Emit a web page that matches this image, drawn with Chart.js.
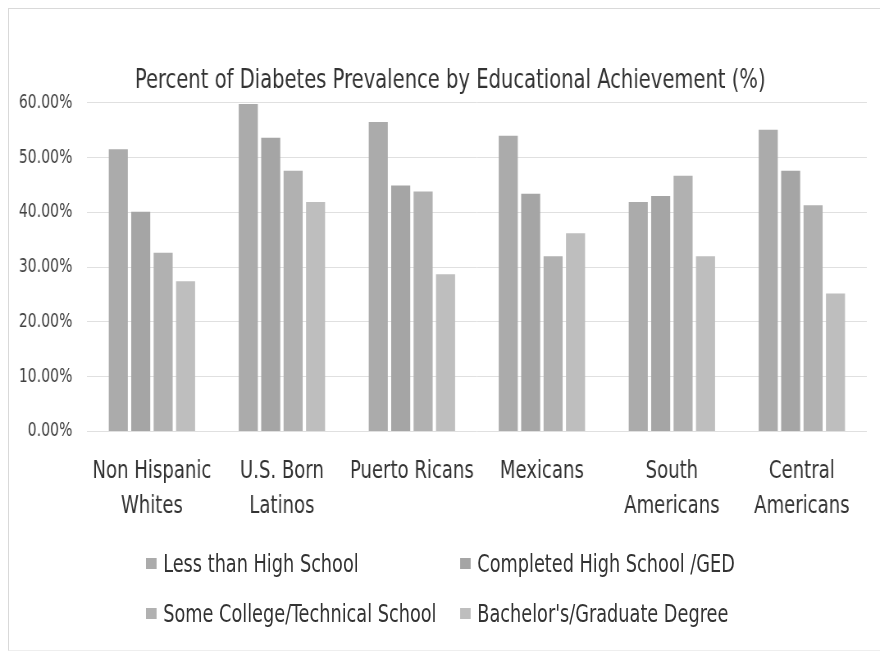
<!DOCTYPE html>
<html>
<head>
<meta charset="utf-8">
<script src="https://cdn.jsdelivr.net/npm/chart.js@4.4.1/dist/chart.umd.min.js"></script>
<style>
  html, body { margin: 0; padding: 0; background: #fff; }
  #wrap { position: relative; width: 880px; height: 652px; overflow: hidden; }
  #frame { position: absolute; left: 8px; top: 8px; width: 900px; height: 641px;
           border-left: 1px solid #d9d9d9; border-top: 1px solid #d9d9d9; border-bottom: 1px solid #eeeeee; }
  #scaled { position: absolute; left: 0; top: 0; width: 1073px; height: 652px;
            transform: scaleX(0.8201); transform-origin: 0 0; }
  canvas { position: absolute; left: 0; top: 0; }
  .lg { position: absolute; font-family: 'DejaVu Sans Condensed', 'DejaVu Sans', sans-serif;
        font-size: 24px; color: #333; white-space: nowrap; line-height: 24px; }
  .lg .box { position: absolute; width: 13px; height: 11px; }
  .lg .txt { position: absolute; }
</style>
</head>
<body>
<div id="wrap">
  <div id="frame"></div>
  <div id="scaled">
    <canvas id="c" width="1073" height="652"></canvas>
    <div id="legend"></div>
  </div>
</div>
<script>
const categories = [
  ['Non Hispanic', 'Whites'],
  ['U.S. Born', 'Latinos'],
  'Puerto Ricans',
  'Mexicans',
  ['South', 'Americans'],
  ['Central', 'Americans']
];
const seriesNames = [
  'Less than High School',
  'Completed High School /GED',
  'Some College/Technical School',
  "Bachelor's/Graduate Degree"
];
const lessThanHighSchool   = [51.5, 59.8, 56.5, 54.0, 41.9, 55.1];
const completedHighSchool  = [40.1, 53.6, 44.9, 43.4, 43.0, 47.6];
const someCollege          = [32.6, 47.6, 43.8, 32.0, 46.7, 41.3];
const bachelorsGraduate    = [27.4, 41.9, 28.7, 36.2, 32.0, 25.2];
const yTicks = [0, 10, 20, 30, 40, 50, 60];

const colors = ['#ababab', '#a5a5a5', '#b1b1b1', '#bebebe'];
const FONT = "'DejaVu Sans Condensed', 'DejaVu Sans', sans-serif";

const seriesValues = [lessThanHighSchool, completedHighSchool, someCollege, bachelorsGraduate];

const chart = new Chart(document.getElementById('c'), {
  type: 'bar',
  data: {
    labels: categories,
    datasets: seriesNames.map((name, i) => ({
      label: name,
      data: seriesValues[i],
      backgroundColor: colors[i],
      borderWidth: 0,
      categoryPercentage: 0.69,
      barPercentage: 0.85
    }))
  },
  options: {
    responsive: false,
    animation: false,
    devicePixelRatio: 1,
    layout: { padding: { left: 41, right: 16, top: 0, bottom: 105 } },
    plugins: {
      legend: { display: false },
      tooltip: { enabled: false },
      title: {
        display: true,
        text: 'Percent of Diabetes Prevalence by Educational Achievement (%)',
        color: '#333',
        font: { family: FONT, size: 26.5, weight: 'normal' },
        padding: { top: 65, bottom: 6 }
      }
    },
    scales: {
      x: {
        grid: { display: false, drawTicks: false },
        border: { display: false },
        ticks: {
          color: '#333',
          font: { family: FONT, size: 24.5, lineHeight: 1.42 },
          padding: 23,
          maxRotation: 0,
          autoSkip: false
        }
      },
      y: {
        min: 0,
        max: 60,
        afterBuildTicks: s => { s.ticks = yTicks.map(v => ({ value: v })); },
        afterFit: s => { s.width = 65; },
        grid: { color: '#e0e0e0', lineWidth: 1, drawTicks: false },
        border: { display: false },
        ticks: {
          color: '#404040',
          font: { family: FONT, size: 19 },
          mirror: true,
          crossAlign: 'far',
          padding: -83,
          callback: v => v.toFixed(2) + '%'
        }
      }
    }
  }
});

// HTML legend built from the chart's own legend items (two aligned columns)
const legendPos = [
  { box: 178, txt: 199, y: 564 },
  { box: 561, txt: 582, y: 564 },
  { box: 178, txt: 199, y: 614 },
  { box: 561, txt: 582, y: 614 }
];
const items = Chart.defaults.plugins.legend.labels.generateLabels(chart);
const lg = document.getElementById('legend');
items.forEach((it, i) => {
  const p = legendPos[i];
  const d = document.createElement('div');
  d.className = 'lg';
  d.style.left = '0px';
  d.style.top = (p.y - 12) + 'px';
  const b = document.createElement('span');
  b.className = 'box';
  b.style.left = p.box + 'px';
  b.style.top = '6px';
  b.style.background = it.fillStyle;
  const t = document.createElement('span');
  t.className = 'txt';
  t.style.left = p.txt + 'px';
  t.style.top = '0px';
  t.textContent = it.text;
  d.appendChild(b);
  d.appendChild(t);
  lg.appendChild(d);
});
</script>
</body>
</html>
